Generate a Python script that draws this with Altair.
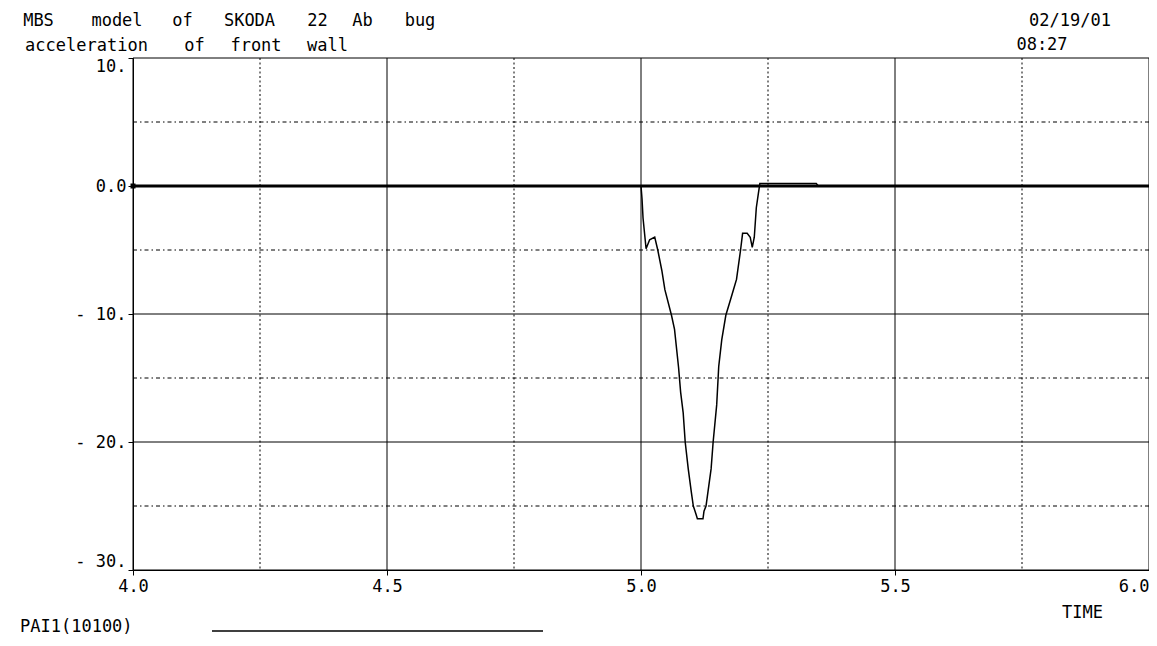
import altair as alt
import pandas as pd

# ---------------- data ----------------
time = [4.000, 5.000, 5.002, 5.004, 5.010, 5.017, 5.027, 5.033, 5.041, 5.047,
        5.060, 5.066, 5.074, 5.078, 5.083, 5.087, 5.093, 5.099, 5.103, 5.108,
        5.111, 5.122, 5.124, 5.128, 5.138, 5.142, 5.149, 5.153, 5.159, 5.167,
        5.176, 5.182, 5.188, 5.196, 5.200, 5.209, 5.215, 5.219, 5.223, 5.227,
        5.231, 5.234, 5.345, 5.349, 6.000]
accel = [0.0, 0.0, -1.0, -2.5, -4.9, -4.2, -4.0, -5.0, -6.6, -8.1,
         -10.1, -11.2, -14.2, -16.1, -17.7, -20.0, -22.1, -23.9, -25.0, -25.6,
         -26.0, -26.0, -25.4, -25.0, -22.1, -20.0, -17.1, -14.1, -12.0, -10.1,
         -8.9, -8.1, -7.3, -5.0, -3.7, -3.7, -4.0, -4.8, -4.0, -1.7,
         -0.6, 0.2, 0.2, 0.0, 0.0]

x_major = [4.0, 4.5, 5.0, 5.5, 6.0]
x_minor = [4.25, 4.75, 5.25, 5.75]
y_major = [10, 0, -10, -20, -30]
y_solid = [10, -10, -20, -30]
y_minor = [5, -5, -15, -25]

title_line1 = ["MBS", "model", "of", "SKODA", "22", "Ab", "bug"]
title_line2 = ["acceleration", "of", "front", "wall"]
date_text = "02/19/01"
clock_text = "08:27"
legend_label = "PAI1(10100)"
x_title = "TIME"

# ---------------- layout (pixels) ----------------
W, H = 1016, 512
OX, OY = 133, 58          # page position of plot origin
FONT = "DejaVu Sans Mono"
FS = 17
line1_cx = [38.5, 117, 182.5, 249.5, 317.5, 362.5, 420]
line2_cx = [86.5, 194.5, 256, 327.5]

df = pd.DataFrame({"time": time, "accel": accel})
xs = alt.Scale(domain=[4, 6], nice=False, zero=False)
ys = alt.Scale(domain=[-30, 10], nice=False, zero=False)

x_axis = alt.Axis(
    values=x_major, format=".1f", title=x_title,
    titleX=1082 - OX, titleY=612 - (OY + H), titleAlign="center",
    titleBaseline="middle", titleFont=FONT, titleFontSize=FS,
    titleFontWeight="normal", titleColor="black",
    labelFont=FONT, labelFontSize=FS, labelColor="black", labelPadding=3,
    labelAlign={"condition": {"test": "datum.value >= 6", "value": "right"}, "value": "center"},
    tickSize=5, tickColor="black", domainColor="black", grid=False,
)
y_axis = alt.Axis(
    values=y_major, title="",
    labelExpr="datum.value == 0 ? '0.0' : (datum.value < 0 ? '- ' + abs(datum.value) + '.' : datum.value + '.')",
    labelFont=FONT, labelFontSize=FS, labelColor="black", labelPadding=2,
    labelFlush=True, labelFlushOffset=0,
    tickSize=5, tickColor="black", domainColor="black", grid=False,
)

curve = alt.Chart(df).mark_line(color="black", strokeWidth=1.5).encode(
    x=alt.X("time:Q", scale=xs, axis=x_axis),
    y=alt.Y("accel:Q", scale=ys, axis=y_axis),
)

grid_x_minor = alt.Chart(pd.DataFrame({"time": x_minor})).mark_rule(
    color="black", strokeWidth=1, strokeDash=[2, 2.5]
).encode(x=alt.X("time:Q", scale=xs, axis=x_axis))

grid_x_major = alt.Chart(pd.DataFrame({"time": x_major})).mark_rule(
    color="black", strokeWidth=1
).encode(x=alt.X("time:Q", scale=xs, axis=x_axis))

grid_y_minor = alt.Chart(pd.DataFrame({"accel": y_minor})).mark_rule(
    color="black", strokeWidth=1, strokeDash=[4, 3, 1.5, 3]
).encode(y=alt.Y("accel:Q", scale=ys, axis=y_axis))

grid_y_major = alt.Chart(pd.DataFrame({"accel": y_solid})).mark_rule(
    color="black", strokeWidth=1
).encode(y=alt.Y("accel:Q", scale=ys, axis=y_axis))

zero_line = alt.Chart(pd.DataFrame({"accel": [0]})).mark_rule(
    color="black", strokeWidth=3
).encode(y=alt.Y("accel:Q", scale=ys, axis=y_axis))

start_pt = alt.Chart(df.head(1)).mark_square(color="black", size=25, opacity=1).encode(
    x=alt.X("time:Q", scale=xs, axis=x_axis),
    y=alt.Y("accel:Q", scale=ys, axis=y_axis),
)

texts = []
one = alt.Data(values=[{}])
def label(txt, cx, cy, align="center"):
    return alt.Chart(one).mark_text(text=txt, font=FONT, fontSize=FS, color="black",
                                    align=align, baseline="middle").encode(
        x=alt.value(cx - OX), y=alt.value(cy - OY))

for w, cx in zip(title_line1, line1_cx):
    texts.append(label(w, cx, 21))
for w, cx in zip(title_line2, line2_cx):
    texts.append(label(w, cx, 46))
texts.append(label(date_text, 1070, 21))
texts.append(label(clock_text, 1042, 45))
texts.append(label(legend_label, 20, 627, align="left"))

legend_line = alt.Chart(one).mark_rule(color="black", strokeWidth=1.5).encode(
    x=alt.value(212 - OX), x2=alt.value(543 - OX), y=alt.value(631 - OY)
)

chart = alt.layer(
    curve, grid_x_minor, grid_y_minor, grid_x_major, grid_y_major, zero_line,
    start_pt, legend_line, *texts
).properties(
    width=W, height=H,
    autosize=alt.AutoSizeParams(type="none"),
    padding={"left": OX - 8, "top": OY - 8, "right": 0, "bottom": 68},
    background="white",
).configure_view(strokeWidth=0)

chart.save("out.html", embed_options={"renderer": "svg", "actions": False})
